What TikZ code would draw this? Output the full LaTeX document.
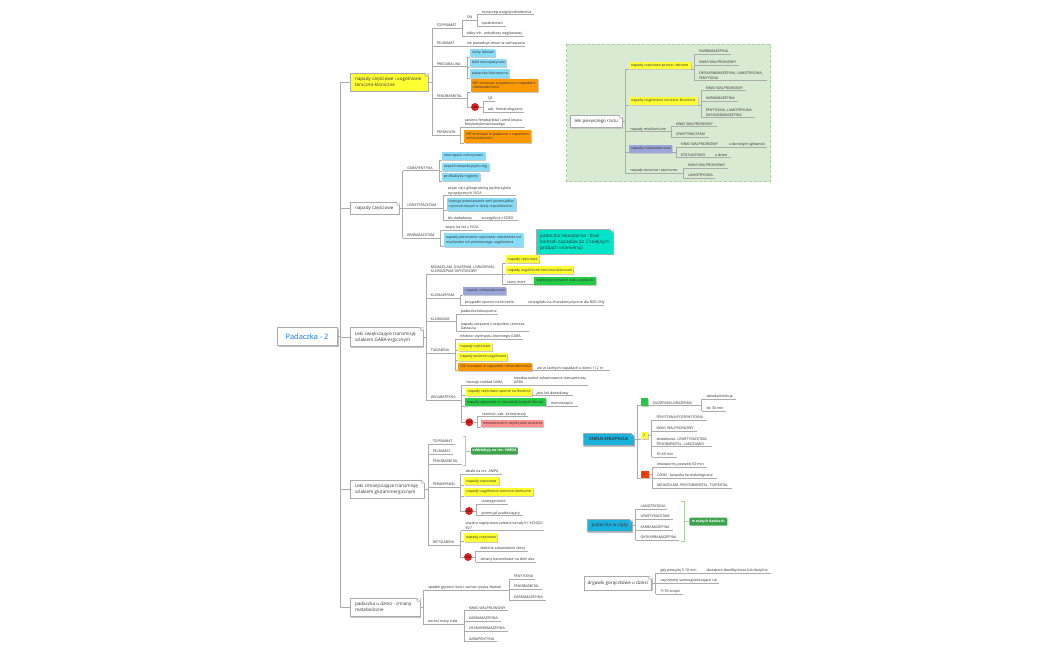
\documentclass[tikz,border=0pt]{standalone}
\usepackage{fontspec}
\setmainfont{Open Sans}
\definecolor{tx}{HTML}{333333}
\definecolor{ln}{HTML}{ABABAB}
\definecolor{cy}{HTML}{87DCF8}
\definecolor{ye}{HTML}{FFFF33}
\definecolor{or}{HTML}{FF9900}
\definecolor{pe}{HTML}{9AA5DC}
\definecolor{gr}{HTML}{22CC44}
\definecolor{pk}{HTML}{FF9090}
\definecolor{te}{HTML}{00E5C8}
\definecolor{sb}{HTML}{1AB2DC}
\definecolor{dg}{HTML}{3FA34D}
\definecolor{rd}{HTML}{E02525}
\definecolor{pn}{HTML}{D9EAD3}
\definecolor{pb}{HTML}{A9D3A0}
\definecolor{og}{HTML}{F53D0E}
\tikzset{
  lf/.style={inner sep=0pt,outer sep=0pt,anchor=south west,text=tx,font=\fontsize{3.6}{4.5}\selectfont},
  sm/.style={inner sep=0pt,outer sep=0pt,anchor=south west,text=tx,font=\fontsize{3.6}{4.5}\selectfont},
  mn/.style={inner sep=0pt,outer sep=0pt,anchor=south west,text=tx,draw=ln,line width=.7pt,font=\fontsize{4.6}{6}\selectfont},
  st/.style={inner sep=0pt,outer sep=0pt,anchor=south west,text=black!80,draw=ln,line width=.5pt,font=\fontsize{3.9}{5}\bfseries\selectfont},
  cb/.style={inner sep=0pt,outer sep=0pt,anchor=south west,text=black!80,draw=ln,line width=.5pt,font=\fontsize{4.6}{6}\selectfont},
  gb/.style={inner sep=0pt,outer sep=0pt,anchor=south west,text=white,rounded corners=1pt,font=\fontsize{3.4}{4.5}\bfseries\selectfont},
  on/.style={circle,inner sep=0pt,minimum size=8pt,fill=rd,text=black,font=\fontsize{3.4}{4}\selectfont},
  ul/.style={draw=ln,line width=.7pt},
  cn/.style={draw=ln,line width=.7pt},
  tk/.style={draw=ln,line width=.9pt},
  br/.style={draw=pb,line width=.5pt},
}
\newcommand{\lf}[5]{%
  \pgfmathsetmacro\lw{#4-#2}%
  \node[lf,minimum width=\lw pt] (#1) at (#2,#3) {\makebox[\lw pt][l]{\hspace{4.8pt}\begin{tabular}[b]{@{}l@{}}#5\end{tabular}}};%
  \draw[ul] (#1.south west) -- (#1.south east);}
\newcommand{\bx}[9]{%
  \pgfmathsetmacro\lw{#5-#3}\pgfmathsetmacro\lh{#6-#4}%
  \fill[black!22] (#3+.9,#4+.9) rectangle (#5+.9,#6+.9);%
  \node[#1,fill=#7,minimum width=\lw pt,minimum height=\lh pt] (#2) at (#3,#6) {\makebox[\lw pt][l]{\hspace{#8pt}\begin{tabular}[c]{@{}l@{}}#9\end{tabular}}};}
\newcommand{\fold}[1]{%
  \fill[white] ([shift={(-3.2,-.4)}]#1.north east) -- ([shift={(.4,-.4)}]#1.north east) -- ([shift={(.4,3.2)}]#1.north east) -- cycle;
  \draw[ln,line width=.4pt] ([shift={(-3.2,0)}]#1.north east) -- ([shift={(0,3.2)}]#1.north east) -- ([shift={(-3.2,3.2)}]#1.north east) -- cycle;}
% connectors
\newcommand{\cl}[2]{\foreach \c in {#2} {\draw[cn] (#1.south east) -| (\c.south west);}}
\newcommand{\cb}[2]{\foreach \c in {#2} {\draw[cn] (#1.south east) |- (\c.south west);}}
\newcommand{\cm}[2]{\foreach \c in {#2} {\draw[tk] (#1.east) -| (\c.south west);}}
\newcommand{\cd}[3]{\foreach \c in {#3} {\draw[tk] (#1.east) -- ++(#2,0) |- (\c.south west);}}
\begin{document}
\begin{tikzpicture}[x=1pt,y=-1pt]
\useasboundingbox (0,0) rectangle (1050,650);
\fill[white] (0,0) rectangle (1050,650);
% panel
\draw[draw=pb,fill=pn,line width=.5pt,densely dashed] (566.7,44) rectangle (770.7,181.7);

% root and main boxes
\fill[black!25] (278.5,328.5) rectangle (338.5,346.5);
\node[inner sep=0pt,outer sep=0pt,draw=ln,fill=white,line width=.7pt,minimum width=60pt,minimum height=18pt,text=blue!55!cyan,font=\fontsize{7.4}{9}\selectfont] (root) at (307,336.5) {Padaczka - 2};
\bx{mn}{m1}{350}{73}{428}{91}{ye}{5}{napady częściowe i uogólnione\\toniczno-kloniczne}
\bx{mn}{m2}{350}{202}{399.3}{214}{white}{5}{napady częściowe}
\bx{mn}{m3}{350}{327.7}{423.3}{346.7}{white}{5}{Leki zwiększające transmisję\\szlakiem GABA-ergicznym}
\bx{mn}{m4}{350}{480}{424.5}{498.3}{white}{5}{Leki zmniejszające transmisję\\szlakiem glutaminergicznym}
\bx{mn}{m5}{350}{598.3}{420}{616.7}{white}{5}{padaczka u dzieci - zmiany\\metaboliczne}
\foreach \c in {m1,m2,m3,m4,m5} {\draw[tk] (root.east) -- ++(3.5,0) |- (\c.west);}

% branch 1
\lf{a1}{432}{28}{462}{TOPIRAMAT}
\lf{a11}{462}{20}{477}{ON}
\lf{a111}{477}{14.5}{534}{rozszczep wargi/podniebienia}
\lf{a112}{477}{26}{506}{spodziectwo}
\lf{a12}{462}{36}{524}{słaby inh. anhydrazy węglanowej}
\lf{a2}{432}{46}{462}{FELBAMAT}
\lf{a21}{462}{46}{525}{nie powoduje zmian w zachowaniu}
\lf{a3}{432}{66.7}{467}{PREGABALINA}
\bx{sm}{a31}{470}{49}{495}{57}{cy}{2}{stany lękowe}
\bx{sm}{a32}{470}{59}{506}{67}{cy}{2}{bóle neuropatyczne}
\bx{sm}{a33}{470}{69}{509}{78}{cy}{2}{padaczka lekooporna}
\lf{a4}{432}{98.7}{467}{FENOBARBITAL}
\bx{sm}{a41}{470.7}{79}{538}{92}{or}{2}{NIE stosować w padaczce z napadami\\nieświadomości}
\node[on] (on1) at (475,107) {ON};
\lf{a421}{483}{101}{495}{SJS}
\lf{a422}{483}{112.3}{524}{zab. hematologiczne}
\lf{a5}{432}{135}{460}{PRYMIDON}
\lf{a51}{460}{127.3}{525}{zawiera fenobarbital i amid kwasu\\fenyloetylomalonowego}
\bx{sm}{a52}{464}{130}{531}{143}{or}{2}{NIE stosować w padaczce z napadami\\nieświadomości}
\cm{m1}{a1,a2,a3,a4,a5}
\cl{a1}{a11,a12}\cl{a11}{a111,a112}\cl{a2}{a21}
\cb{a3}{a31,a32,a33}\cb{a4}{a41}
\draw[cn] (a4.south east) |- (on1.west);
\draw[cn] (on1.east) -| (a421.south west);
\draw[cn] (on1.east) -| (a422.south west);
\cl{a5}{a51}\cb{a5}{a52}

% branch 2
\lf{b1}{402.5}{170.7}{439}{GABAPENTYNA}
\bx{sm}{b11}{442}{152}{485}{160}{cy}{2}{neuropatia cukrzycowa}
\bx{sm}{b12}{442}{163}{489}{171}{cy}{2}{zespół niespokojnych nóg}
\bx{sm}{b13}{442}{173}{480}{181}{cy}{2}{profilaktyka migreny}
\lf{b2}{402.5}{208}{443}{LEWETYRACETAM}
\lf{b21}{443}{195.7}{515.7}{wiąże się z glikoproteiną pęcherzyków\\synaptycznych SV2A}
\bx{sm}{b22}{446.7}{197.7}{515.7}{210.7}{cy}{2}{hamuje powstawanie serii potencjałów\\czynnościowych o dużej częstotliwości}
\lf{b23}{443}{220.7}{476.7}{lek dodatkowy}
\lf{b231}{476.7}{220.7}{518}{szczególnie z EDED}
\lf{b3}{402.5}{238.3}{440.7}{BRIWARACETAM}
\lf{b31}{440.7}{230}{482.7}{wiąże się też z SV2A}
\bx{sm}{b32}{444}{233}{523}{246.7}{cy}{2}{napady pierwotnie częściowe; niezależnie od\\możliwości ich późniejszego uogólnienia}
\cm{m2}{b1,b2,b3}
\cb{b1}{b11,b12,b13}\cl{b2}{b21,b23}\cb{b2}{b22}\cl{b23}{b231}\cl{b3}{b31}\cb{b3}{b32}
\bx{cb}{call}{536.7}{229.3}{613}{254.3}{te}{3.5}{padaczka lekooporna - brak\\kontroli napadów po 2 kolejnych\\próbach interwencji}

% branch 3
\lf{c1}{426}{274.3}{502.3}{MIDAZOLAM, DIAZEPAM, LORAZEPAM,\\KLORAZEPAM DIPOTASOWY}
\bx{sm}{c11}{505.7}{255}{539}{263.3}{ye}{2}{napady częściowe}
\bx{sm}{c12}{505.7}{266}{573.3}{274.3}{ye}{2}{napady uogólnione toniczno-kloniczne}
\lf{c13}{502.3}{284.7}{534.3}{stany ostre}
\bx{sm}{c131}{534.3}{277}{596}{285}{gr}{2}{szybkie przerwanie ataku padaczki}
\lf{c2}{426}{298.3}{460}{KLONAZEPAM}
\bx{sm}{c21}{463.3}{286.7}{506}{295}{pe}{2}{napady nieświadomości}
\lf{c22}{460}{305}{523.3}{przypadki oporne na leczenie}
\lf{c221}{523.3}{305}{604.3}{ze względu na charakterystyczne dla BZD-3Ny}
\lf{c3}{426}{321.7}{456}{KLOBAZAM}
\lf{c31}{456}{314}{498.3}{padaczka lekooporna}
\lf{c32}{456}{331}{529.3}{napady związane z zespołem Lennoxa-\\Gastauta}
\lf{c4}{426}{353.3}{455}{TIAGABINA}
\lf{c41}{455}{339.3}{522.7}{inhibitor wychwytu zwrotnego GABA}
\bx{sm}{c42}{458.3}{342.7}{492.3}{350.7}{ye}{2}{napady częściowe}
\bx{sm}{c43}{458.3}{352.7}{507.3}{360.7}{ye}{2}{napady wtórnie uogólnione}
\bx{sm}{c44}{458.3}{362.7}{532.3}{370.7}{or}{2}{NIE stosować w napadach nieświadomości}
\lf{c441}{532.3}{370.7}{610}{ani w żadnych napadach u dzieci <12 rż}
\lf{c5}{426}{400}{461.7}{WIGABATRYNA}
\lf{c51}{461.7}{385}{509}{hamuje rozkład GABA}
\lf{c511}{509}{385}{588}{nieodwracalne zahamowanie transaminazy\\GABA}
\bx{sm}{c52}{465.7}{388.3}{531.7}{395.7}{ye}{2}{napady częściowe oporne na leczenie}
\lf{c521}{531.7}{395.7}{573.3}{jako lek dodatkowy}
\bx{sm}{c53}{465}{398.3}{546}{406}{gr}{2}{napady zgięciowe u niemowląt (zespół Westa)}
\lf{c531}{546}{406}{578.3}{monoterapia}
\node[on] (on2) at (469.3,422.3) {ON};
\lf{c541}{477.3}{416.7}{528.3}{senność, zab. koncentracji}
\bx{sm}{c542}{481}{420}{543.3}{427.3}{pk}{2}{nieodwracalne ubytki pola widzenia}
\cm{m3}{c1,c2,c3,c4,c5}
\cb{c1}{c11,c12}\cl{c1}{c13}\cl{c13}{c131}
\cb{c2}{c21}\cl{c2}{c22}\cl{c22}{c221}
\cl{c3}{c31,c32}
\cl{c4}{c41}\cb{c4}{c42,c43,c44}\cl{c44}{c441}
\cl{c5}{c51}\cl{c51}{c511}\cb{c5}{c52,c53}\cl{c52}{c521}\cl{c53}{c531}
\draw[cn] (c5.south east) |- (on2.west);
\draw[cn] (on2.east) -| (c541.south west);
\draw[cn] (on2.east) -- ++(3.5,0) |- (c542.south west);

% branch 4
\lf{d1}{428}{444}{455}{TOPIRAMAT}
\lf{d2}{428}{454}{453}{FELBAMAT}
\lf{d3}{428}{464.3}{461.7}{FENOBARBITAL}
\node[gb,fill=dg,minimum width=46.7pt,minimum height=7.4pt,anchor=center] (d0) at (494.4,451) {\fontsize{3.6}{4.5}\selectfont oddziałują na rec. NMDA};
\coordinate (dbr) at (465.7,451);
\draw[br] (463.3,436) -- (465.7,436) -- (465.7,465) -- (463.3,465);
\draw[br] (dbr) -- (d0.west);
\lf{d4}{428}{487.3}{460.7}{PERAMPANEL}
\lf{d41}{460.7}{474}{501.7}{działa na rec. AMPA}
\bx{sm}{d42}{464.3}{477.3}{499}{485}{ye}{2}{napady częściowe}
\bx{sm}{d43}{464.3}{487.7}{533.3}{496}{ye}{2}{napady uogólnione toniczno-kloniczne}
\node[on] (on3) at (469,511) {ON};
\lf{d441}{476.7}{504.3}{507.7}{teratogenność}
\lf{d442}{476.7}{515.7}{522.7}{potencjał uzależniający}
\lf{d5}{428}{545}{460.7}{RETYGABINA}
\lf{d51}{460.7}{530.7}{544}{otwiera napięciowo-zależne kanały K+ KCNQ2/\\KV7}
\bx{sm}{d52}{464}{533.3}{497.3}{541.7}{ye}{2}{napady częściowe}
\node[on] (on4) at (468,557) {ON};
\lf{d531}{475.7}{551}{527.7}{błękitne zabarwienie skóry}
\lf{d532}{475.7}{562.3}{535.7}{zmiany barwnikowe na dnie oka}
\cm{m4}{d1,d2,d3,d4,d5}
\cl{d4}{d41}\cb{d4}{d42,d43}
\draw[cn] (d4.south east) |- (on3.west);
\foreach \c in {d441,d442} {\draw[cn] (on3.east) -| (\c.south west);}
\cl{d5}{d51}\cb{d5}{d52}
\draw[cn] (d5.south east) |- (on4.west);
\foreach \c in {d531,d532} {\draw[cn] (on4.east) -| (\c.south west);}

% branch 5
\lf{e1}{423.3}{590}{509}{spadek gęstości kości, wzrost ryzyka złamań}
\lf{e11}{509}{579}{535}{FENYTOINA}
\lf{e12}{509}{589.3}{541.7}{FENOBARBITAL}
\lf{e13}{509}{600}{545.7}{KARBAMAZEPINA}
\lf{e2}{423.3}{624.3}{464}{wzrost masy ciała}
\lf{e21}{464}{610.7}{508.3}{KWAS WALPROINOWY}
\lf{e22}{464}{621}{500.7}{KARBAMAZEPINA}
\lf{e23}{464}{631}{507.7}{OKSKARBAMAZEPINA}
\lf{e24}{464}{641.7}{497.3}{GABAPENTYNA}
\cm{m5}{e1,e2}
\cl{e1}{e11,e12,e13}\cl{e2}{e21,e22,e23,e24}

% panel content
\fill[black!22] (570.9,115.9) rectangle (623.2,128.6);
\node[cb,fill=white,minimum width=52.3pt,minimum height=12.7pt,font=\fontsize{4.4}{6}\selectfont] (p0) at (570,127.7) {leki pierwszego rzutu};
\bx{sm}{p1}{629}{61.7}{691}{69.3}{ye}{2}{napady częściowe proste i złożone}
\lf{p11}{694.3}{54}{730.7}{KARBAMAZEPINA}
\lf{p12}{694.3}{65}{739}{KWAS WALPROINOWY}
\lf{p13}{694.3}{80.7}{766.7}{OKSKARBAMAZEPINA, LAMOTRYGINA,\\FENYTOINA}
\bx{sm}{p2}{629}{96.7}{697.7}{105}{ye}{2}{napady uogólnione toniczno-kloniczne}
\lf{p21}{701}{90.7}{745.7}{KWAS WALPROINOWY}
\lf{p22}{701}{101}{738.3}{KARBAMAZEPINA}
\lf{p23}{701}{117.7}{755}{FENYTOINA, LAMOTRYGINA\\OKSKARBAMAZEPINA}
\lf{p3}{625.7}{131.7}{671}{napady miokloniczne}
\lf{p31}{671}{126.7}{716.7}{KWAS WALPROINOWY}
\lf{p32}{671}{137.3}{709}{LEWETYRACETAM}
\bx{sm}{p4}{629}{145}{672.3}{152.7}{pe}{2}{napady nieświadomości}
\lf{p41}{676}{147.3}{724.3}{KWAS WALPROINOWY}
\lf{p411}{724.3}{147.3}{766.7}{u dorosłych (głównie)}
\lf{p42}{676}{157.7}{710}{ETOSUKSYMID}
\lf{p421}{710}{157.7}{730.7}{u dzieci}
\lf{p5}{625.7}{173.3}{683.3}{napady toniczne i atoniczne}
\lf{p51}{683.3}{168.3}{728.3}{KWAS WALPROINOWY}
\lf{p52}{683.3}{178.3}{715}{LAMOTRYGINA}
\cd{p0}{3.4}{p1,p2,p4}
\cd{p0}{3.4}{p3,p5}
\cl{p1}{p11,p12,p13}\cl{p2}{p21,p22,p23}\cl{p3}{p31,p32}\cl{p4}{p41,p42}\cl{p41}{p411}\cl{p42}{p421}\cl{p5}{p51,p52}

% status epilepticus
\fill[black!25] (584.2,434.2) rectangle (635.2,446.6);
\node[st,fill=sb,minimum width=51pt,minimum height=12.4pt] (s0) at (583.3,445.7) {STATUS EPILEPTICUS};
\bx{sm}{s1}{641}{398.3}{647.7}{405.7}{gr}{2}{1}
\bx{sm}{s2}{641}{431.7}{647.7}{439.3}{ye}{2}{2}
\bx{sm}{s3}{641}{470.7}{649}{478.3}{og}{2}{3}
\lf{s11}{647.7}{405.7}{701.7}{DIAZEPAM/LORAZEPAM}
\lf{s111}{701.7}{399.3}{735.7}{wlewka/iniekcja}
\lf{s112}{701.7}{411}{725.7}{do 30 min}
\lf{s21}{651.7}{420}{706.7}{FENYTOINA/FOSFENYTOINA}
\lf{s22}{651.7}{431}{696.7}{KWAS WALPROINOWY}
\lf{s23}{651.7}{446.7}{711.7}{dodatkowo: LEWETYRACETAM,\\FENOBARBITAL, LAKOZAMID}
\lf{s24}{651.7}{457.3}{676.7}{30-60 min}
\lf{s31}{652.3}{467.3}{706.7}{lekooporny, powyżej 60 min}
\lf{s32}{652.3}{478.3}{716.7}{OIOM - śpiączka farmakologiczna}
\lf{s33}{652.3}{488.3}{731.7}{MIDAZOLAM, PENTOBARBITAL, TIOPENTAL}
\cd{s0}{3.4}{s1,s2,s3}
\cl{s1}{s11}\cl{s11}{s111,s112}
\foreach \c in {s21,s22,s23,s24} {\draw[cn] (s2.east) -| (\c.south west);}
\foreach \c in {s31,s32,s33} {\draw[cn] (s3.east) -| (\c.south west);}

% ciaza
\fill[black!25] (588.2,519.9) rectangle (633.2,532.6);
\node[cb,fill=sb,minimum width=45pt,minimum height=12.7pt] (t0) at (587.3,531.7) {padaczka w ciąży};
\lf{t1}{635.7}{509.3}{667.3}{LAMOTRYGINA}
\lf{t2}{635.7}{519.3}{672.7}{LEWETYRACETAM}
\lf{t3}{635.7}{530}{673.3}{KARBAMAZEPINA}
\lf{t4}{635.7}{540}{679}{OKSKARBAMAZEPINA}
\cm{t0}{t1,t2,t3,t4}
\node[gb,fill=dg,minimum width=38pt,minimum height=8pt,anchor=center] (t5) at (708.3,521.7) {w małych dawkach};
\coordinate (tbr) at (684.3,521.7);
\draw[br] (681,501) -- (684.3,501) -- (684.3,541) -- (681,541);
\draw[br] (tbr) -- (t5.west);

% drgawki
\fill[black!25] (585,577.6) rectangle (652.6,590.9);
\node[cb,fill=white,minimum width=67.7pt,minimum height=13.3pt] (u0) at (584,590) {drgawki gorączkowe u dzieci};
\lf{u1}{655.7}{573.3}{701.7}{gdy powyżej 5-10 min}
\lf{u11}{701.7}{573.3}{771}{diazepam doodbytniczo lub dożylnie}
\lf{u2}{655.7}{583.3}{719}{najczęściej samoograniczające się}
\lf{u3}{655.7}{594.3}{683.3}{T>39 stopni}
\cm{u0}{u1,u2,u3}
\cl{u1}{u11}

% folds
\foreach \n in {m1,m2,m3,m4,m5,call,p0,s0,t0,u0} {\fold{\n}}
\end{tikzpicture}
\end{document}
